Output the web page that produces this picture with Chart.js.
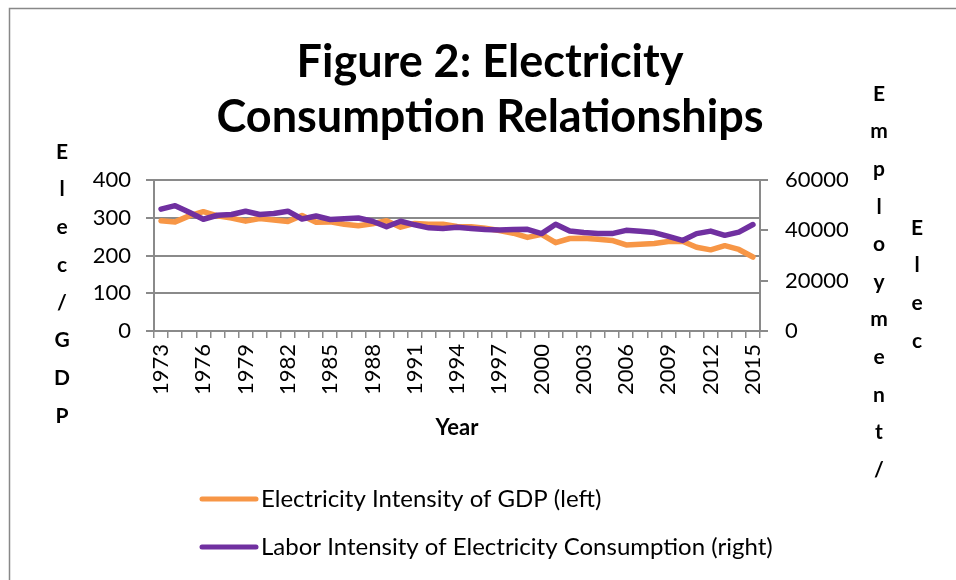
<!DOCTYPE html>
<html>
<head>
<meta charset="utf-8">
<script src="https://cdn.jsdelivr.net/npm/chart.js@4/dist/chart.umd.min.js"></script>
<style>
  html, body { margin: 0; padding: 0; background: #fff; }
  #wrap { width: 956px; height: 580px; position: relative; }
</style>
</head>
<body>
<div id="wrap"><canvas id="c" width="956" height="580"></canvas></div>
<script>
const years = ['1973','1974','1975','1976','1977','1978','1979','1980','1981','1982','1983','1984','1985','1986','1987','1988','1989','1990','1991','1992','1993','1994','1995','1996','1997','1998','1999','2000','2001','2002','2003','2004','2005','2006','2007','2008','2009','2010','2011','2012','2013','2014','2015'];
const elecIntensityGDP = [292,289,305,316,305,299,291,298,294,290,306,288,289,283,279,284,292,275,285,283,283,277,276,272,266,259,248,256,234,245,246,243,240,228,230,232,237,238,222,215,226,216,196];
const laborIntensityElec = [48400,49800,47200,44400,46000,46300,47600,46300,46700,47600,44500,45700,44300,44600,44900,43600,41400,43600,42200,41000,40700,41200,40700,40300,40100,40300,40400,38700,42400,39700,39100,38700,38700,40000,39600,39100,37600,36000,38700,39700,38000,39300,42300];
const leftTicks = [0,100,200,300,400];
const rightTicks = [0,20000,40000,60000];
const seriesNames = ['Electricity Intensity of GDP (left)','Labor Intensity of Electricity Consumption (right)'];
const titleLines = ['Figure 2: Electricity','Consumption Relationships'];
const leftTitle = 'Elec/GDP';
const rightTitle1 = 'Employment/';
const rightTitle2 = 'Elec';
const xTitle = 'Year';

const ORANGE = '#F79646';
const PURPLE = '#7030A0';
const GRID = '#8a8a8a';
const FONT = 'Lato, "Open Sans", "Noto Sans", sans-serif';

const PLOT = { left: 154, right: 760, top: 180, bottom: 331 };

const decor = {
  id: 'decor',
  afterDraw(chart) {
    const ctx = chart.ctx;
    ctx.save();
    // frame
    ctx.strokeStyle = '#888';
    ctx.lineWidth = 1.5;
    ctx.beginPath();
    ctx.moveTo(9.5, 580);
    ctx.lineTo(9.5, 8.5);
    ctx.lineTo(956, 8.5);
    ctx.stroke();

    ctx.fillStyle = '#000';
    ctx.textAlign = 'center';
    ctx.textBaseline = 'middle';
    // title
    ctx.font = 'bold 45px ' + FONT;
    ctx.fillText(titleLines[0], 490, 62);
    ctx.fillText(titleLines[1], 490, 117);

    // stacked axis titles
    ctx.font = 'bold 21px ' + FONT;
    leftTitle.split('').forEach((ch, i) => ctx.fillText(ch, 62, 152 + i * 37.7));
    rightTitle1.split('').forEach((ch, i) => ctx.fillText(ch, 879, 94 + i * 37.6));
    rightTitle2.split('').forEach((ch, i) => ctx.fillText(ch, 917, 228 + i * 37.6));

    // x title
    ctx.font = 'bold 22px ' + FONT;
    ctx.fillText(xTitle, 457, 428);

    // legend
    const ds = chart.data.datasets;
    const ly = [499, 547];
    ctx.textAlign = 'left';
    ctx.font = '24px ' + FONT;
    ds.forEach((d, i) => {
      ctx.strokeStyle = d.borderColor;
      ctx.lineWidth = 5;
      ctx.lineCap = 'round';
      ctx.beginPath();
      ctx.moveTo(202, ly[i]);
      ctx.lineTo(256, ly[i]);
      ctx.stroke();
      ctx.fillStyle = '#000';
      ctx.fillText(d.label, 261, ly[i]);
    });
    ctx.restore();
  }
};

new Chart(document.getElementById('c'), {
  type: 'line',
  data: {
    labels: years,
    datasets: [
      { label: seriesNames[0], data: elecIntensityGDP, yAxisID: 'yL', borderColor: ORANGE, backgroundColor: ORANGE,
        borderWidth: 5.5, pointRadius: 0, tension: 0, borderJoinStyle: 'round', borderCapStyle: 'round', order: 2 },
      { label: seriesNames[1], data: laborIntensityElec, yAxisID: 'yR', borderColor: PURPLE, backgroundColor: PURPLE,
        borderWidth: 5.5, pointRadius: 0, tension: 0, borderJoinStyle: 'round', borderCapStyle: 'round', order: 1 }
    ]
  },
  options: {
    responsive: false,
    animation: false,
    devicePixelRatio: 1,
    layout: { padding: { left: 0, right: 0, top: PLOT.top, bottom: 0 } },
    plugins: { legend: { display: false }, title: { display: false }, tooltip: { enabled: false } },
    scales: {
      x: {
        type: 'category',
        offset: true,
        grid: { display: true, drawOnChartArea: false, drawTicks: true, tickLength: 7, offset: true, color: GRID, lineWidth: 1.5 },
        border: { display: true, color: GRID, width: 2 },
        ticks: {
          autoSkip: false, maxRotation: 90, minRotation: 90, padding: 6, color: '#000',
          font: { family: FONT, size: 22 },
          callback: function(v, i) { return (i % 3 === 0) ? this.getLabelForValue(v) : ''; }
        },
        afterFit(s) { s.height = 580 - PLOT.bottom; }
      },
      yL: {
        type: 'linear', position: 'left', min: 0, max: 400,
        afterBuildTicks(s) { s.ticks = leftTicks.map(v => ({ value: v })); },
        grid: { color: GRID, lineWidth: 2, drawTicks: true, tickLength: 8 },
        border: { display: true, color: GRID, width: 2 },
        ticks: { padding: 15, color: '#000', font: { family: FONT, size: 22 } },
        afterFit(s) { s.width = PLOT.left; }
      },
      yR: {
        type: 'linear', position: 'right', min: 0, max: 60000,
        afterBuildTicks(s) { s.ticks = rightTicks.map(v => ({ value: v })); },
        grid: { drawOnChartArea: false, color: GRID, lineWidth: 2, drawTicks: true, tickLength: 8 },
        border: { display: true, color: GRID, width: 2 },
        ticks: { padding: 17, color: '#000', font: { family: FONT, size: 22 }, callback: v => String(v) },
        afterFit(s) { s.width = 956 - PLOT.right; }
      }
    }
  },
  plugins: [decor]
});
</script>
</body>
</html>
